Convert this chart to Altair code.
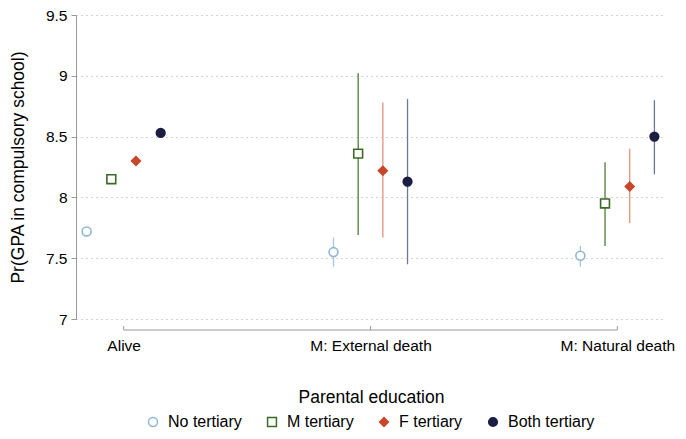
import altair as alt
import pandas as pd

categories = ["Alive", "M: External death", "M: Natural death"]
groups = ["No tertiary", "M tertiary", "F tertiary", "Both tertiary"]
group_offsets = [-0.15, -0.05, 0.05, 0.15]

est = {
    "No tertiary":   [7.72, 7.55, 7.52],
    "M tertiary":    [8.15, 8.36, 7.95],
    "F tertiary":    [8.30, 8.22, 8.09],
    "Both tertiary": [8.53, 8.13, 8.50],
}
lo = {
    "No tertiary":   [7.70, 7.43, 7.43],
    "M tertiary":    [8.13, 7.69, 7.60],
    "F tertiary":    [8.28, 7.67, 7.79],
    "Both tertiary": [8.51, 7.45, 8.19],
}
hi = {
    "No tertiary":   [7.74, 7.67, 7.60],
    "M tertiary":    [8.17, 9.02, 8.29],
    "F tertiary":    [8.32, 8.78, 8.40],
    "Both tertiary": [8.55, 8.81, 8.80],
}

marker_stroke = ["#8fb6d8", "#3b6a26", "#c8472a", "#1b1d42"]
marker_fill = ["white", "white", "#c8472a", "#1b1d42"]
line_colors = ["#a8c7e0", "#4f7b38", "#e2927c", "#6d7797"]
shapes = ["circle", "square", "diamond", "circle"]
sizes = [80, 75, 130, 75]

ci_groups = [g + " (CI)" for g in groups]

rows = []
for gi, g in enumerate(groups):
    for ci, c in enumerate(categories):
        rows.append({
            "group": g,
            "ci_group": ci_groups[gi],
            "category": c,
            "pos": ci + 1 + group_offsets[gi],
            "est": est[g][ci],
            "lo": lo[g][ci],
            "hi": hi[g][ci],
        })
df = pd.DataFrame(rows)

axis_df = pd.DataFrame({"cat": [1, 2, 3]})

W, H = 590, 304
FONT = "Liberation Sans"

xscale = alt.Scale(domain=[0.807, 3.197], nice=False, zero=False)
yscale = alt.Scale(domain=[7, 9.5], nice=False, zero=False)

label_expr = "datum.value == 1 ? 'Alive' : datum.value == 2 ? 'M: External death' : 'M: Natural death'"

base = alt.Chart(df)

rules = base.mark_rule(strokeWidth=1.3).encode(
    x=alt.X("pos:Q", scale=xscale,
            axis=alt.Axis(values=[1, 2, 3], labelExpr=label_expr, domain=False, ticks=False,
                          grid=False, offset=11, labelPadding=8, title="Parental education",
                          titlePadding=35, labelFontSize=15.5, titleFontSize=17.5,
                          labelColor="black", titleColor="black", titleFontWeight="normal",
                          labelFont=FONT, titleFont=FONT)),
    y=alt.Y("lo:Q", scale=yscale,
            axis=alt.Axis(values=[7, 7.5, 8, 8.5, 9, 9.5], format="~g",
                          title="Pr(GPA in compulsory school)",
                          grid=True, gridDash=[1, 4], gridColor="#a8a8a8", domainColor="#999999",
                          tickColor="#999999", tickSize=5, labelFontSize=15.5, titleFontSize=17.5,
                          labelColor="black", titleColor="black", titleFontWeight="normal",
                          labelFont=FONT, titleFont=FONT, titlePadding=18, labelPadding=4)),
    y2="hi:Q",
    color=alt.Color("ci_group:N", scale=alt.Scale(domain=ci_groups, range=line_colors), legend=None),
)

leg = alt.Legend(title=None, orient="none", direction="horizontal", legendX=69, legendY=399,
                 padding=0, labelFontSize=16, labelFont=FONT, labelColor="black",
                 columnPadding=22, labelOffset=7, symbolStrokeWidth=1.5)

points = base.mark_point(strokeWidth=1.6, opacity=1).encode(
    x=alt.X("pos:Q", scale=xscale),
    y=alt.Y("est:Q", scale=yscale),
    shape=alt.Shape("group:N", scale=alt.Scale(domain=groups, range=shapes), legend=leg),
    stroke=alt.Stroke("group:N", scale=alt.Scale(domain=groups, range=marker_stroke), legend=leg),
    fill=alt.Fill("group:N", scale=alt.Scale(domain=groups, range=marker_fill), legend=leg),
    size=alt.Size("group:N", scale=alt.Scale(domain=groups, range=sizes), legend=leg),
)

xline = alt.Chart(pd.DataFrame({"a": [1], "b": [3]})).mark_rule(color="#999999", strokeWidth=1).encode(
    x=alt.X("a:Q", scale=xscale), x2="b:Q", y=alt.value(H + 11)
)
xticks = alt.Chart(axis_df).mark_rule(color="#999999", strokeWidth=1).encode(
    x=alt.X("cat:Q", scale=xscale), y=alt.value(H + 7), y2=alt.value(H + 11)
)

chart = alt.layer(rules, xline, xticks, points).properties(
    width=W, height=H,
    background="white",
    autosize=alt.AutoSizeParams(type="none"),
    padding={"left": 68, "top": 7, "right": 12, "bottom": 112},
).configure_view(stroke=None)

chart.save("out.html", embed_options={"renderer": "svg", "actions": False})
